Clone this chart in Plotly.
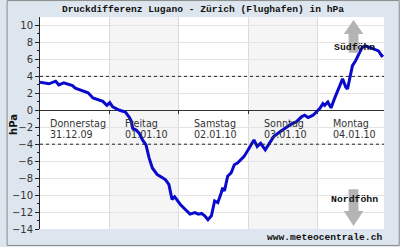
import plotly.graph_objects as go

# ---- data (hours since Thu 31.12.09 00:00, pressure difference hPa) ----
hours = [0, 3.1, 5.4, 6.5, 8.2, 9.5, 11.2, 12.2, 14.6, 16.6, 18.3, 20.0, 21.7, 23.1, 24.1,
         25.1, 27.5, 29.5, 30.9, 31.6, 32.0, 33.2, 34.3, 35.4, 36.6, 37.7, 38.8, 40.5, 42.2,
         43.3, 44.5, 45.0, 45.6, 46.5, 48.4, 50.1, 51.8, 53.5, 54.7, 55.8, 56.9, 58.0, 59.2,
         60.3, 61.4, 62.6, 63.1, 63.7, 64.8, 66.0, 67.1, 68.2, 69.4, 70.5, 72.2, 73.3, 73.9,
         75.0, 76.2, 77.8, 79.0, 80.7, 82.9, 85.2, 86.9, 88.6, 90.3, 91.4, 92.6, 94.3, 95.4,
         96.6, 97.7, 98.3, 99.4, 100.5, 101.7, 102.8, 103.9, 104.5, 105.6, 106.2, 106.7,
         107.3, 107.9, 109.0, 110.2, 111.2, 112.4, 114.1, 115.8, 116.9, 118.0, 118.5]
pressure = [3.31, 3.12, 3.43, 3.0, 3.23, 3.12, 2.92, 2.61, 2.33, 2.07, 1.45, 1.25, 1.05, 0.58, 0.9,
            0.4, 0.0, -0.21, -0.85, -1.35, -2.13, -2.33, -2.72, -3.5, -4.08, -5.64, -6.8, -7.58, -7.97,
            -8.17, -8.75, -9.52, -10.5, -10.19, -11.08, -11.67, -12.25, -12.06, -12.25, -12.17, -12.44, -12.9, -12.44,
            -10.69, -10.89, -9.72, -9.14, -9.52, -7.78, -7.39, -6.42, -6.23, -5.83, -5.44, -4.47, -3.89, -3.5,
            -4.28, -3.89, -4.67, -4.08, -3.11, -2.53, -1.94, -1.6, -1.34, -0.77, -0.58, -0.85, -0.58, -0.19,
            0.2, 0.78, 0.58, 0.98, 0.28, 1.37, 2.34, 3.31, 3.7, 2.73, 2.53, 3.31,
            4.48, 5.26, 5.84, 6.81, 7.4, 7.59, 7.4, 7.2, 7.0, 6.42, 6.56]

day_names = ["Donnerstag", "Freitag", "Samstag", "Sonntag", "Montag"]
day_dates = ["31.12.09", "01.01.10", "02.01.10", "03.01.10", "04.01.10"]
day_starts = [0, 24, 48, 72, 96]
y_ticks = [-14, -12, -10, -8, -6, -4, -2, 0, 2, 4, 6, 8, 10]
threshold = 4

W, H = 400, 247
ML, MR, MT, MB = 34, 16, 17, 17
PW, PH = W - ML - MR, H - MT - MB
X_MAX = 118.8
Y_MIN, Y_MAX = -14, 11.0

def px(xp):
    return (xp - ML) / PW

def py(yp):
    return (H - MB - yp) / PH

fig = go.Figure()
fig.add_trace(go.Scatter(x=hours, y=pressure, mode="lines",
                         line=dict(color="#0a0acc", width=3), hoverinfo="skip"))

shapes = []
# alternating day bands
for i, d in enumerate(day_starts):
    if i % 2 == 1:
        shapes.append(dict(type="rect", xref="x", yref="paper", x0=d, x1=d + 24, y0=0, y1=1,
                           fillcolor="#f5f5f5", line=dict(width=0), layer="below"))
# dotted thresholds
for t in (threshold, -threshold):
    shapes.append(dict(type="line", xref="paper", yref="y", x0=0, x1=1, y0=t, y1=t,
                       line=dict(color="#222", width=1, dash="dot")))

# arrows (Südföhn up, Nordföhn down)
def arrow(cx, ytip, ybase_head, yend):
    pts = [(cx, ytip), (cx - 10, ybase_head), (cx - 5, ybase_head), (cx - 5, yend),
           (cx + 5, yend), (cx + 5, ybase_head), (cx + 10, ybase_head)]
    path = "M " + " L ".join(f"{px(a):.4f},{py(b):.4f}" for a, b in pts) + " Z"
    return dict(type="path", xref="paper", yref="paper", path=path,
                fillcolor="#b4b4b4", line=dict(width=0), layer="above")

shapes.append(arrow(353, 20, 34, 53))
shapes.append(arrow(353, 227, 212, 190))
# outer border
shapes.append(dict(type="rect", xref="paper", yref="paper",
                   x0=px(0.5), x1=px(W - 0.5), y0=py(H - 0.5), y1=py(0.5),
                   line=dict(color="#8a8a8a", width=1), fillcolor="rgba(0,0,0,0)"))

annotations = []
mono = "Liberation Mono"
annotations.append(dict(text="<b>Druckdifferenz Lugano - Zürich (Flughafen) in hPa</b>",
                        xref="paper", yref="paper", x=px(200), y=py(9), showarrow=False,
                        xanchor="center", yanchor="middle",
                        font=dict(family=mono, size=9.6, color="#111")))
annotations.append(dict(text="<b>hPa</b>", xref="paper", yref="paper", x=px(7), y=py(125),
                        textangle=-90, showarrow=False, xanchor="center", yanchor="middle",
                        font=dict(family="DejaVu Sans", size=10, color="#111")))
for i, d in enumerate(day_starts):
    off = 2.6 if i == 0 else 4.6
    for txt, ypix in ((day_names[i], 124), (day_dates[i], 134.7)):
        annotations.append(dict(text=txt, xref="x", yref="paper", x=d + off, y=py(ypix),
                                showarrow=False, xanchor="left", yanchor="middle",
                                font=dict(family="DejaVu Sans", size=9.6, color="#333")))
annotations.append(dict(text="<b>Südföhn</b>", xref="paper", yref="paper", x=px(354), y=py(48),
                        showarrow=False, xanchor="center", yanchor="middle",
                        font=dict(family=mono, size=9.8, color="#111")))
annotations.append(dict(text="<b>Nordföhn</b>", xref="paper", yref="paper", x=px(354), y=py(200),
                        showarrow=False, xanchor="center", yanchor="middle",
                        font=dict(family=mono, size=9.8, color="#111")))
annotations.append(dict(text="<b>www.meteocentrale.ch</b>", xref="paper", yref="paper",
                        x=px(384), y=py(238.5), showarrow=False, xanchor="right", yanchor="middle",
                        font=dict(family=mono, size=9.6, color="#111")))

fig.update_layout(
    width=W, height=H, margin=dict(l=ML, r=MR, t=MT, b=MB, pad=0),
    paper_bgcolor="#dde6ee", plot_bgcolor="#ffffff", showlegend=False,
    shapes=shapes, annotations=annotations,
    xaxis=dict(range=[0, X_MAX], tickvals=day_starts[1:], ticks="outside", ticklen=3,
               tickcolor="#333", showticklabels=False, showgrid=True, gridcolor="#dadada",
               gridwidth=1, zeroline=False, showline=False, anchor="free",
               position=(0 - Y_MIN) / (Y_MAX - Y_MIN)),
    yaxis=dict(range=[Y_MIN, Y_MAX], tickvals=y_ticks, ticks="outside", ticklen=4,
               tickcolor="#222", showline=True, linecolor="#222", linewidth=1,
               showgrid=True, gridcolor="#e4e4e4", zeroline=True, zerolinecolor="#333",
               zerolinewidth=1, tickfont=dict(family="DejaVu Sans", size=10, color="#333"),
               minor=dict(tickvals=[v + 1 for v in y_ticks[:-1]], ticks="outside", ticklen=2,
                          tickcolor="#222", showgrid=False)),
)
fig.write_html("out.html")
